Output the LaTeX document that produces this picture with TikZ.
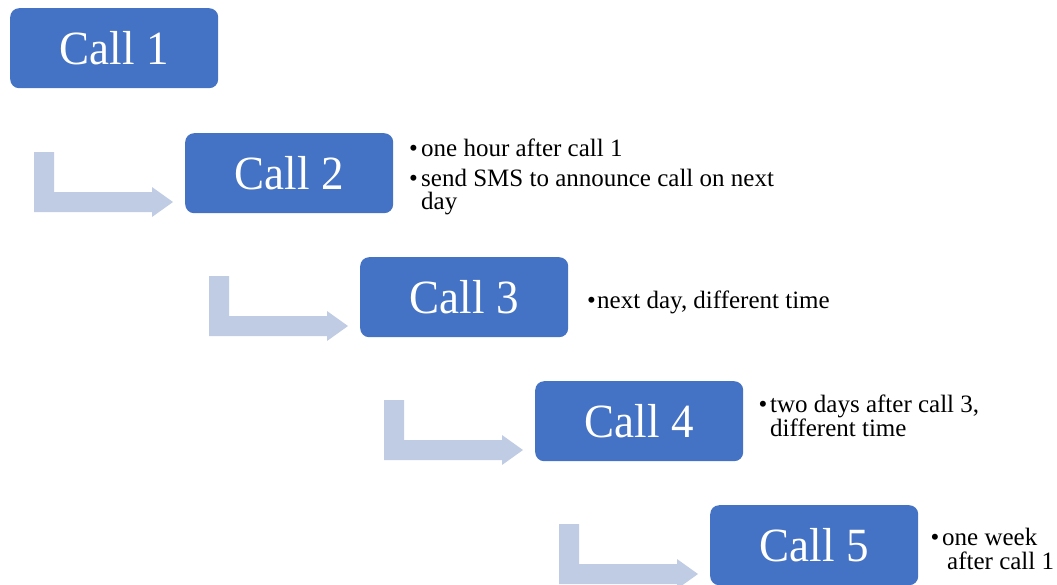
\documentclass[tikz,border=0pt]{standalone}
\usepackage{graphicx}
\usepackage{fontspec}
\setmainfont{Liberation Serif}
\definecolor{boxblue}{RGB}{68,114,196}
\definecolor{arrowblue}{RGB}{192,203,228}
\newcommand{\tallcall}[1]{\scalebox{1}[1.06]{#1}}
\begin{document}
\begin{tikzpicture}[x=1pt,y=-1pt,
  callbox/.style={fill=boxblue, rounded corners=9pt, minimum width=208pt, minimum height=80pt,
    inner sep=0pt, text=white, font=\fontsize{45}{54}\selectfont, anchor=north west},
  note/.style={anchor=base west, inner sep=0pt, font=\fontsize{25}{28}\selectfont},
  dot/.style={anchor=base, inner sep=0pt, font=\fontsize{25}{28}\selectfont},
  bentarrow/.style={fill=arrowblue}]
\useasboundingbox (0,0) rectangle (1057,584);

\node[callbox] (c1) at (10,8) {\tallcall{Call 1}};
\node[callbox] (c2) at (185,133) {\tallcall{Call 2}};
\node[callbox] (c3) at (360,257) {\tallcall{Call 3}};
\node[callbox] (c4) at (535,381) {\tallcall{Call 4}};
\node[callbox] (c5) at (710,505) {\tallcall{Call 5}};

\foreach \n in {2,...,5} {
  \begin{scope}[shift={(c\n.north west)}]
    \fill[bentarrow] (-151,19) -- (-131,19) -- (-131,59) -- (-33,59) -- (-33,54) -- (-12,69)
      -- (-33,84) -- (-33,79) -- (-151,79) -- cycle;
  \end{scope}
}

% Call 2 notes
\node[dot] (d2a) at (413.5,156) {•};
\node[note] (t2a) at (421,156) {one hour after call 1};
\node[dot] (d2b) at (413.5,186) {•};
\node[note] (t2b) at (421,186) {send SMS to announce call on next};
\node[note] (t2c) at (421,209) {day};

% Call 3 notes
\node[dot] (d3a) at (591.5,308) {•};
\node[note] (t3a) at (597,308) {next day, different time};

% Call 4 notes
\node[dot] (d4a) at (763,412) {•};
\node[note] (t4a) at (770,412) {two days after call 3,};
\node[note] (t4b) at (770,436) {different time};

% Call 5 notes
\node[dot] (d5a) at (935,545) {•};
\node[note] (t5a) at (942,545) {one week};
\node[note] (t5b) at (947,569) {after call 1};
\end{tikzpicture}
\end{document}
